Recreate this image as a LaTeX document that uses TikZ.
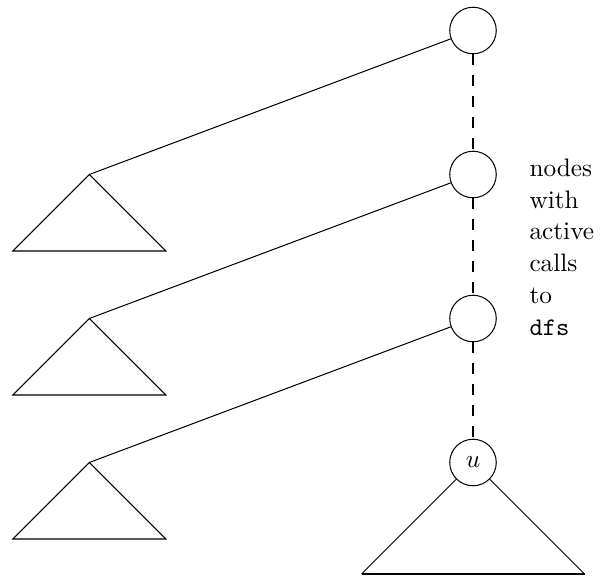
\documentclass[tikz,border=0pt]{standalone}
\begin{document}
\begin{tikzpicture}[x=0.3953pt,y=-0.3953pt,
  vtx/.style={draw,circle,minimum size=18.4pt,inner sep=0pt},
  act/.style={dash pattern=on 4.15pt off 4.15pt},
  tri/.style={line join=miter},
  note/.style={anchor=base west,align=left,inner sep=0pt,font={\fontsize{10}{12.6}\selectfont}}]
\useasboundingbox (0,0) rectangle (602,576);
\node[vtx] (c1) at (473,30.5) {};
\node[vtx] (c2) at (473,174.5) {};
\node[vtx] (c3) at (473,318.5) {};
\node[vtx] (u) at (473,462.5) {$u$};
\draw[act] (c1) -- (c2);
\draw[act] (c2) -- (c3);
\draw[act] (c3) -- (u);
\coordinate (t1) at (89.3,174.5);
\coordinate (t2) at (89.3,318.5);
\coordinate (t3) at (89.3,462.5);
\foreach \t in {t1,t2,t3}
  \draw[tri] (\t) -- ++(-76.5,76.5) -- ++(153,0) -- cycle;
\draw (t1) -- (c1);
\draw (t2) -- (c2);
\draw (t3) -- (c3);
\coordinate (bl) at (361.5,574);
\coordinate (br) at (584.5,574);
\draw (bl) -- (u) -- (br);
\draw (bl) -- (br);
\node[note] (lbl) at (529,335.5)
  {nodes\\with\\active\\calls\\to\\\texttt{dfs}};
\end{tikzpicture}
\end{document}
